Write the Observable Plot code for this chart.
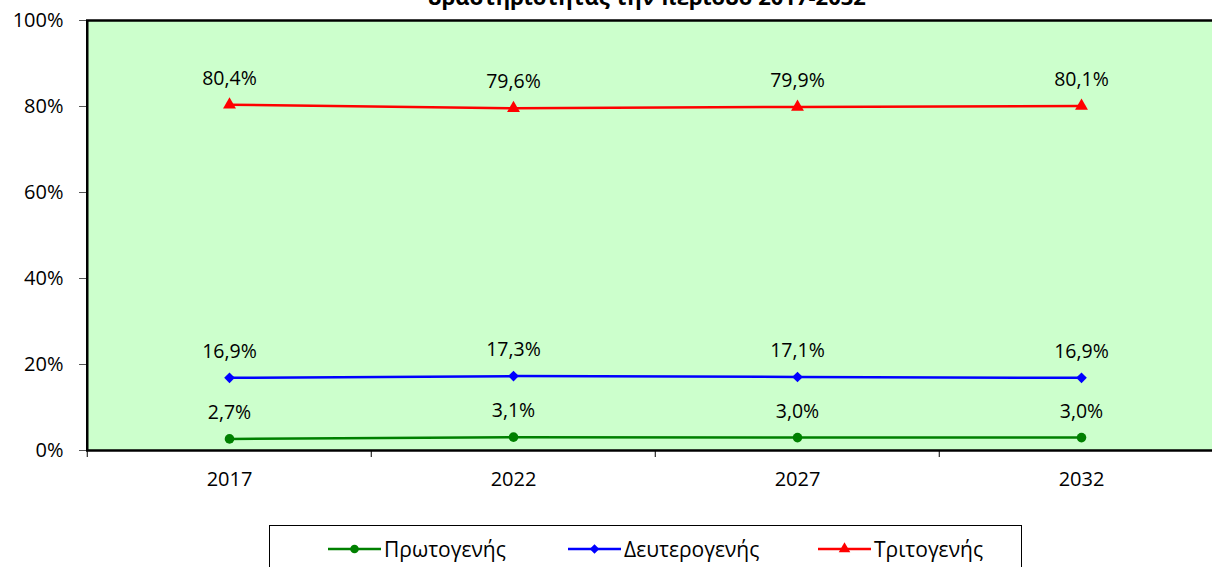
<!DOCTYPE html>
<html><head><meta charset="utf-8">
<script src="https://cdn.jsdelivr.net/npm/d3@7"></script>
<script src="https://cdn.jsdelivr.net/npm/@observablehq/plot@0.6"></script>
<style>
body{margin:0;background:#fff;}
#wrap{position:relative;width:1212px;height:567px;overflow:hidden;font-family:"Open Sans",sans-serif;color:#000;}
#title{position:absolute;left:0;width:1294px;text-align:center;top:-14px;line-height:20px;font-weight:bold;font-size:22px;white-space:nowrap;}
#chart{position:absolute;left:0;top:0;}
#legend{position:absolute;left:269px;top:525px;width:753px;height:60px;border:1px solid #000;box-sizing:border-box;background:#fff;}
.item{position:absolute;top:8px;display:flex;align-items:center;font-size:21px;height:30px;}
.item svg{display:block;margin-right:3px;}
</style></head>
<body>
<div id="wrap">
  <div id="chart"></div>
  <div id="title"></div>
  <div id="legend"></div>
</div>
<script>
const titleText = "δραστηριότητας την περίοδο 2017-2032";
const years = ["2017", "2022", "2027", "2032"];
const seriesNames = ["Πρωτογενής", "Δευτερογενής", "Τριτογενής"];
const primary = [2.7, 3.1, 3.0, 3.0];
const secondary = [16.9, 17.3, 17.1, 16.9];
const tertiary = [80.4, 79.6, 79.9, 80.1];
const yTicks = [0, 20, 40, 60, 80, 100];

const colors = ["#008000", "#0000FF", "#FF0000"];
const symbols = ["circle", "diamond2", "triangle"];

const values = [primary, secondary, tertiary];
const data = seriesNames.flatMap((s, i) => years.map((y, j) => ({series: s, year: y, value: values[i][j]})));
const fmt = v => v.toFixed(1).replace(".", ",") + "%";

document.getElementById("title").textContent = titleText;

const W = 1212, ML = 86, MR = -12;
const bw = (W - ML - MR) / years.length;

const chart = Plot.plot({
  width: W, height: 505,
  marginTop: 20, marginLeft: ML, marginRight: MR, marginBottom: 55,
  style: {fontFamily: "'Open Sans', sans-serif", fontSize: "20px", color: "#000", background: "transparent", overflow: "visible"},
  x: {type: "band", domain: years, padding: 0},
  y: {domain: [0, 100]},
  color: {domain: seriesNames, range: colors},
  symbol: {domain: seriesNames, range: symbols},
  marks: [
    Plot.frame({fill: "#CCFFCC", stroke: null}),
    Plot.ruleX(years, {x: d => d, y1: 0, y2: 0, dx: -bw / 2, insetBottom: -7, stroke: "#000", strokeWidth: 1}),
    Plot.ruleY([0, 100], {stroke: "#000", strokeWidth: 2.5}),
    Plot.ruleX([years[0]], {dx: -bw / 2, stroke: "#000", strokeWidth: 2.5}),
    Plot.axisY({ticks: yTicks, tickFormat: d => d + "%", tickSize: 7, tickPadding: 16, label: null, stroke: "#555", fontSize: 20}),
    Plot.axisX({tickSize: 0, tickPadding: 21, label: null, fontSize: 20}),
    Plot.line(data, {x: "year", y: "value", z: "series", stroke: "series", strokeWidth: 2.5}),
    Plot.dot(data, {x: "year", y: "value", symbol: "series", fill: "series", stroke: "series", strokeWidth: 0, r: 4.8}),
    Plot.text(data, {x: "year", y: "value", text: d => fmt(d.value), dy: -26, fill: "#000", fontSize: 19.5})
  ]
});
document.getElementById("chart").appendChild(chart);

// legend
const legend = document.getElementById("legend");
const legendX = [58, 298, 548];
seriesNames.forEach((s, i) => {
  const div = document.createElement("div");
  div.className = "item";
  div.style.left = legendX[i] + "px";
  const svg = d3.create("svg").attr("width", 53).attr("height", 20);
  svg.append("line").attr("x1", 0).attr("x2", 53).attr("y1", 10).attr("y2", 10)
    .attr("stroke", colors[i]).attr("stroke-width", 2.5);
  const sym = {circle: d3.symbolCircle, diamond2: d3.symbolDiamond2, triangle: d3.symbolTriangle}[symbols[i]];
  svg.append("path").attr("transform", "translate(26.5,10)")
    .attr("d", d3.symbol(sym, Math.PI * 4.8 * 4.8 * 0.8)()).attr("fill", colors[i]);
  div.appendChild(svg.node());
  const span = document.createElement("span");
  span.textContent = s;
  div.appendChild(span);
  legend.appendChild(div);
});
</script>
</body></html>
